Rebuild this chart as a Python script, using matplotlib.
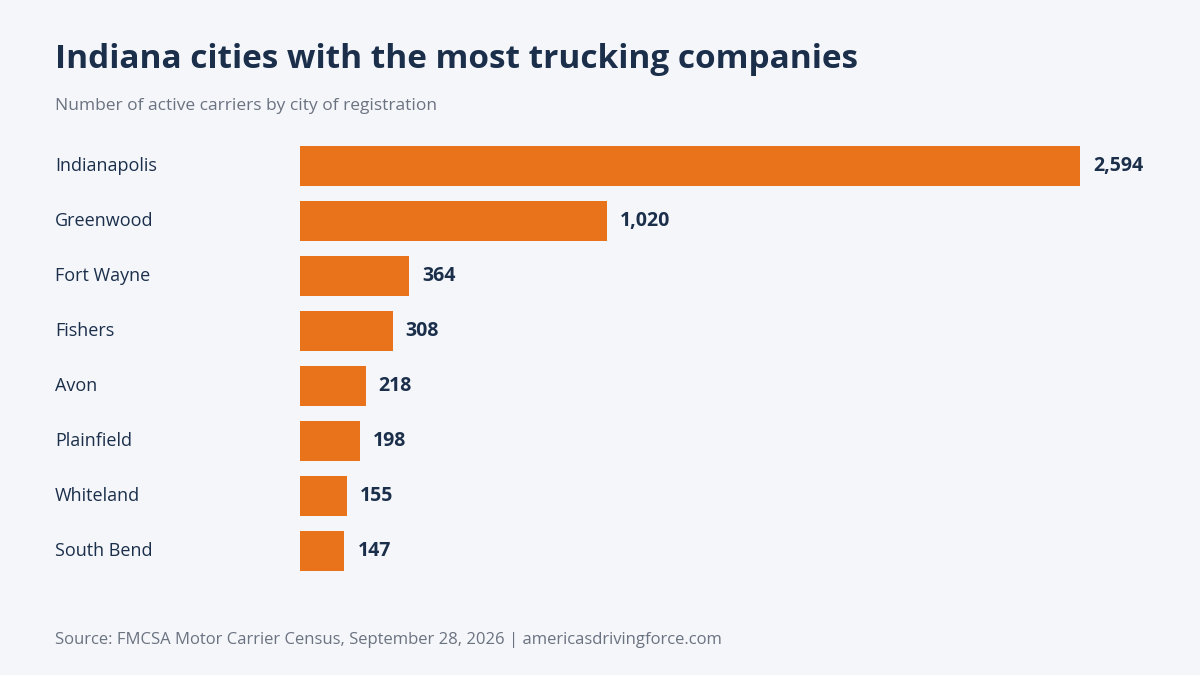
import matplotlib.pyplot as plt

plt.rcParams['font.family'] = ['Open Sans', 'DejaVu Sans']

cities = ['Indianapolis', 'Greenwood', 'Fort Wayne', 'Fishers', 'Avon',
          'Plainfield', 'Whiteland', 'South Bend']
carriers = [2594, 1020, 364, 308, 218, 198, 155, 147]

bg = '#f4f6fa'
navy = '#1b2f4b'
orange = '#e8731a'

fig = plt.figure(figsize=(12, 6.75), dpi=100, facecolor=bg)
ax = fig.add_axes([0.25, 1 - 578.5 / 675, 0.65, 440 / 675])
ax.set_facecolor(bg)

y = range(len(cities))
ax.barh(y, carriers, height=0.73, color=orange)
ax.set_xlim(0, 2594)
ax.set_ylim(len(cities) - 0.5, -0.5)
ax.axis('off')

for i, (c, v) in enumerate(zip(cities, carriers)):
    ax.annotate(f'{v:,}', (v, i), xytext=(9.5, 0), textcoords='offset points',
                va='center', ha='left', fontsize=14, fontweight='bold', color=navy)
    fig.text(55 / 1200, 1 - (166 + 55 * i) / 675, c, ha='left', va='center',
             fontsize=13, color=navy)

fig.text(55 / 1200, 1 - 60 / 675, 'Indiana cities with the most trucking companies',
         ha='left', va='center', fontsize=24, fontweight='bold', color=navy)
fig.text(55 / 1200, 1 - 106 / 675, 'Number of active carriers by city of registration',
         ha='left', va='center', fontsize=12.5, color='#6b7280')
fig.text(55 / 1200, 1 - 640 / 675,
         'Source: FMCSA Motor Carrier Census, September 28, 2026 | americasdrivingforce.com',
         ha='left', va='center', fontsize=12, color='#6b7280')

fig.savefig('out.png', facecolor=bg)
